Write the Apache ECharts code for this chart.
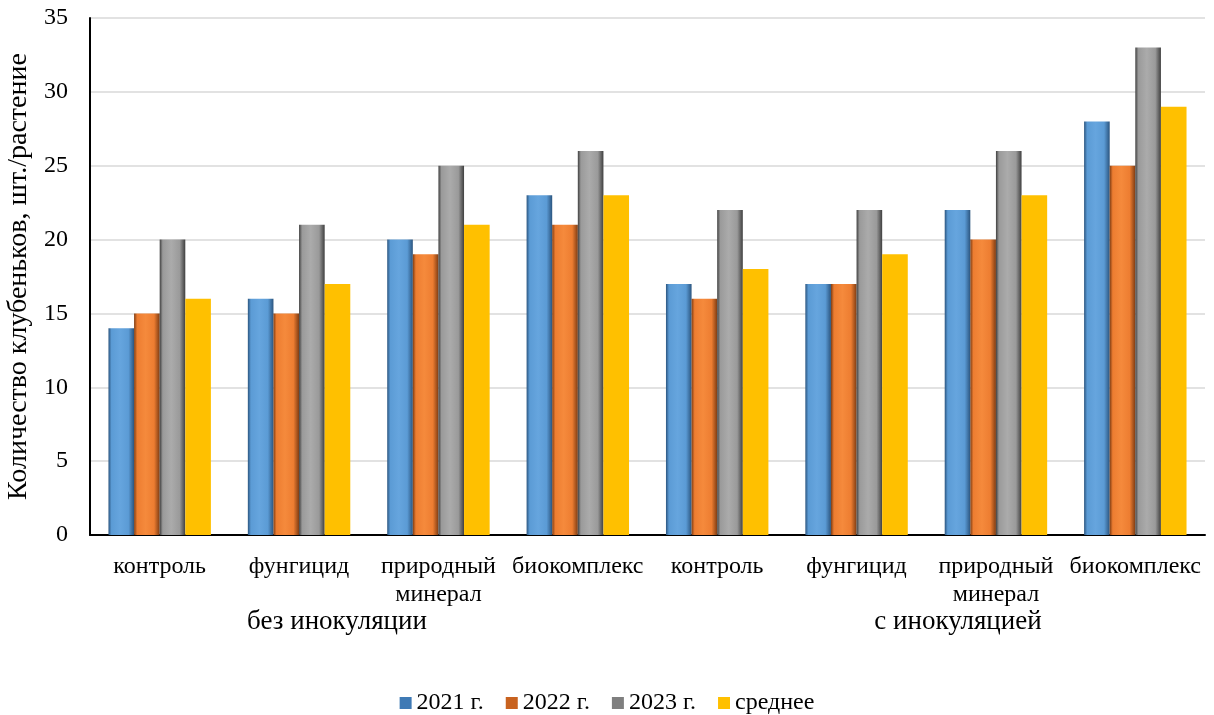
<!DOCTYPE html>
<html><head><meta charset="utf-8">
<script src="https://cdn.jsdelivr.net/npm/echarts@6/dist/echarts.min.js"></script>
<style>html,body{margin:0;padding:0;background:#fff}#c{width:1214px;height:715px}</style>
</head><body><div id="c"></div>
<script>
const categories = ['контроль','фунгицид','природный\nминерал','биокомплекс','контроль','фунгицид','природный\nминерал','биокомплекс'];
const groupLabels = ['без инокуляции','с инокуляцией'];
const seriesNames = ['2021 г.','2022 г.','2023 г.','среднее'];
const y2021 = [14,16,20,23,17,17,22,28];
const y2022 = [15,15,19,21,16,17,20,25];
const y2023 = [20,21,25,26,22,22,26,33];
const yAvg  = [16,17,21,23,18,19,23,29];
const yTicks = [0,5,10,15,20,25,30,35];

function bevel(dark, base, light){
  return {type:'linear',x:0,y:0,x2:1,y2:0,colorStops:[
    {offset:0,color:dark},{offset:0.12,color:base},{offset:0.45,color:light},{offset:0.78,color:base},{offset:1,color:dark}]};
}
const fills = [
  bevel('#2b557f','#5b9bd5','#66a5de'),
  bevel('#7f3c12','#ed7d31','#f58a3c'),
  bevel('#3f3f3f','#9a9a9a','#ababab'),
  '#ffc000'
];
const legendColors = ['#3f7ab5','#c8621f','#7f7f7f','#ffc000'];
const data = [y2021,y2022,y2023,yAvg];

const chart = echarts.init(document.getElementById('c'));
const font = '"Liberation Serif","Times New Roman",serif';
chart.setOption({
  animation:false,
  textStyle:{fontFamily:font},
  grid:{left:90,right:9,top:18,bottom:180,outerBoundsMode:'none',containLabel:false},
  legend:{top:686,left:'center',icon:'rect',itemWidth:12,itemHeight:12,itemGap:22,
    textStyle:{fontFamily:font,fontSize:24,color:'#000'},
    data:seriesNames.map((n,i)=>({name:n,itemStyle:{color:legendColors[i]}}))},
  xAxis:{type:'category',data:categories,
    axisLine:{lineStyle:{color:'#000',width:2}},axisTick:{show:false},
    axisLabel:{fontFamily:font,fontSize:24,color:'#000',margin:18,lineHeight:28,interval:0}},
  yAxis:{type:'value',min:0,max:35,interval:5,
    name:'Количество клубеньков, шт./растение',nameLocation:'middle',nameGap:50,
    nameTextStyle:{fontFamily:font,fontSize:28,color:'#000'},
    axisLine:{show:true,lineStyle:{color:'#000',width:2}},axisTick:{show:false},
    axisLabel:{fontFamily:font,fontSize:24,color:'#000',margin:22,formatter:v=>yTicks.includes(v)?String(v):''},
    splitLine:{lineStyle:{color:'#d9d9d9',width:1.5}}},
  series:seriesNames.map((n,i)=>({name:n,type:'bar',data:data[i],barGap:'0%',barCategoryGap:'26.5%',
    itemStyle:{color:fills[i]}})),
  graphic:[
    {type:'text',x:337,y:622,style:{text:groupLabels[0],font:'27px '+font,fill:'#000',textAlign:'center',textVerticalAlign:'middle'}},
    {type:'text',x:958,y:622,style:{text:groupLabels[1],font:'27px '+font,fill:'#000',textAlign:'center',textVerticalAlign:'middle'}}
  ]
});
</script></body></html>
